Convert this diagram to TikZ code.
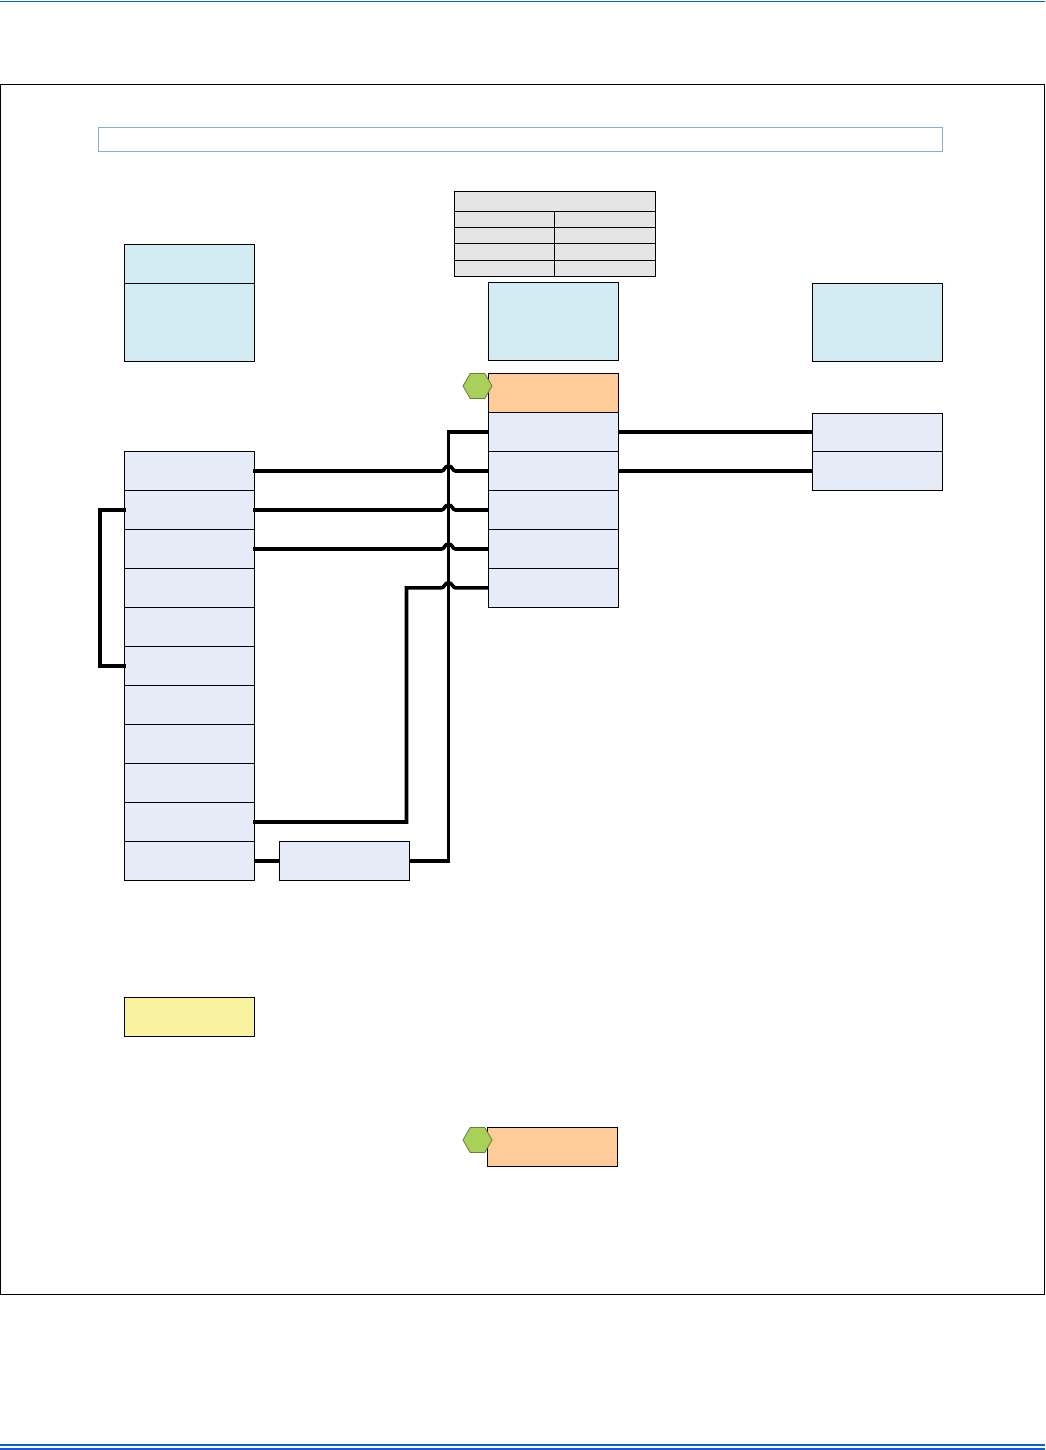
\documentclass[tikz,border=0pt]{standalone}
\usetikzlibrary{shapes.geometric,calc}
\definecolor{lightcell}{HTML}{D3ECF3}
\definecolor{rowcell}{HTML}{E6ECF7}
\definecolor{orangecell}{HTML}{FFCC99}
\definecolor{yellowcell}{HTML}{F9F3A0}
\definecolor{tablecell}{HTML}{E5E5E5}
\definecolor{hexfill}{HTML}{A9D15A}
\definecolor{hexline}{HTML}{5F7F3A}
\definecolor{bannerline}{HTML}{8EACCF}
\definecolor{rulelineblue}{HTML}{0B5ED7}
\tikzset{
  cellbase/.style={draw=black,line width=0.9pt,rectangle,anchor=north west,inner sep=0pt,outer sep=0pt,minimum width=130pt,minimum height=39pt},
  rowbox/.style={cellbase,fill=rowcell},
  infobox/.style={cellbase,fill=lightcell},
  headbox/.style={cellbase,fill=orangecell},
  notebox/.style={cellbase,fill=yellowcell},
  tablebox/.style={cellbase,fill=tablecell},
  hexmark/.style={regular polygon,regular polygon sides=6,draw=hexline,line width=0.8pt,fill=hexfill,inner sep=0pt,outer sep=0pt,minimum size=29pt},
  wire/.style={draw=black,line width=3.6pt,line join=miter},
}
\newcommand{\hopto}[2]{-- ($(bus |- #1)+(-7,0)$) .. controls ($(bus |- #1)+(-4,0)$) and ($(bus |- #1)+(-4,-5)$) .. ($(bus |- #1)+(0,-5)$) .. controls ($(bus |- #1)+(4,-5)$) and ($(bus |- #1)+(4,0)$) .. ($(bus |- #1)+(7,0)$) -- (#2 |- #1)}
\begin{document}
\begin{tikzpicture}[x=1pt,y=-1pt]
\useasboundingbox (0,0) rectangle (1045,1450);
\fill[white] (0,0) rectangle (1045,1450);
% page rules
\draw[rulelineblue,line width=1pt] (0,1.2) -- (1045,1.2);
\draw[rulelineblue,line width=2.5pt] (0,1445) -- (1045,1445);
\draw[rulelineblue,line width=1.7pt] (0,1449) -- (1045,1449);
% frame and banner
\node[draw=black,line width=1pt,anchor=north west,inner sep=0pt,outer sep=0pt,minimum width=1043.5pt,minimum height=1210pt] (frame) at (0.5,84.5) {};
\node[draw=bannerline,line width=1.8pt,anchor=north west,inner sep=0pt,outer sep=0pt,minimum width=844pt,minimum height=24pt] (banner) at (98.5,127.5) {};
% table
\node[tablebox,minimum width=201pt,minimum height=20pt] (T0) at (454.5,191.5) {};
\node[tablebox,minimum width=100pt,minimum height=16pt] (T1a) at (454.5,211.5) {};
\node[tablebox,minimum width=101pt,minimum height=16pt] (T1b) at (554.5,211.5) {};
\node[tablebox,minimum width=100pt,minimum height=16pt] (T2a) at (454.5,227.5) {};
\node[tablebox,minimum width=101pt,minimum height=16pt] (T2b) at (554.5,227.5) {};
\node[tablebox,minimum width=100pt,minimum height=17pt] (T3a) at (454.5,243.5) {};
\node[tablebox,minimum width=101pt,minimum height=17pt] (T3b) at (554.5,243.5) {};
\node[tablebox,minimum width=100pt,minimum height=16pt] (T4a) at (454.5,260.5) {};
\node[tablebox,minimum width=101pt,minimum height=16pt] (T4b) at (554.5,260.5) {};
% info boxes
\node[infobox] (I1) at (124.5,244.5) {};
\node[infobox,minimum height=78pt] (I2) at (124.5,283.5) {};
\node[infobox,minimum height=78pt] (I3) at (488.5,282.5) {};
\node[infobox,minimum height=78pt] (I4) at (812.5,283.5) {};
% left column
\foreach \i in {1,...,11} \node[rowbox] (L\i) at (124.5,{451.5+39*(\i-1)}) {};
% middle column
\node[headbox] (MH) at (488.5,373.3) {};
\foreach \i in {1,...,5} \node[rowbox] (M\i) at (488.5,{412.3+39*(\i-1)}) {};
% right column
\node[rowbox,minimum height=38pt] (R1) at (812.5,413.5) {};
\node[rowbox] (R2) at (812.5,451.5) {};
% other boxes
\node[rowbox] (B) at (279.5,841.5) {};
\node[notebox] (N) at (124.5,997.5) {};
\node[headbox] (OH) at (487.5,1127.5) {};
% hexagons
\node[hexmark] (H1) at (477.5,386) {};
\node[hexmark] (H2) at (477.5,1140) {};
% routing guides
\coordinate (bus) at (448.5,0);
\coordinate (riser) at (406.5,0);
\coordinate (loop) at (100,0);
% wires
\draw[wire] (M1.west) -- (bus |- M1.west) -- (bus |- B.east) -- (B.east);
\draw[wire] (L11.east) -- (B.west);
\draw[wire] ([xshift=-1.5pt]L1.east) \hopto{L1.east}{M2.west};
\draw[wire] ([xshift=-1.5pt]L2.east) \hopto{L2.east}{M3.west};
\draw[wire] ([xshift=-1.5pt]L3.east) \hopto{L3.east}{M4.west};
\draw[wire] ([xshift=-1.5pt]L10.east) -- (riser |- L10.east) -- (riser |- M5.west) \hopto{M5.west}{M5.west};
\draw[wire] ([xshift=1.5pt]L2.west) -- (loop |- L2.west) -- (loop |- L6.west) -- ([xshift=1.5pt]L6.west);
\draw[wire] (M1.east) -- (M1.east -| R1.west);
\draw[wire] (M2.east) -- (M2.east -| R2.west);
\end{tikzpicture}
\end{document}
